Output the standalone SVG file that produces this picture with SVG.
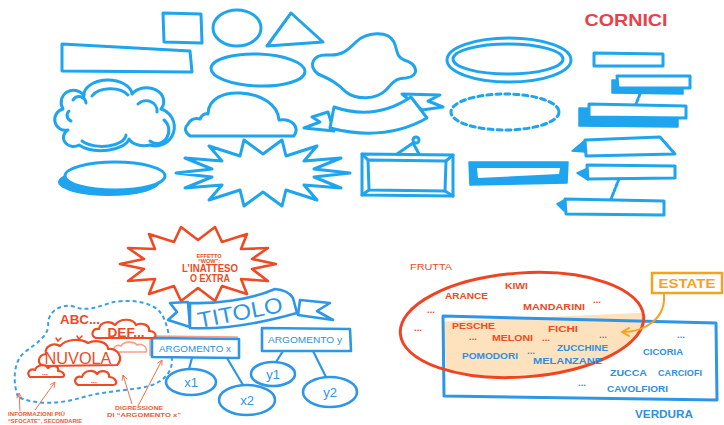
<svg xmlns="http://www.w3.org/2000/svg" width="724" height="425" viewBox="0 0 724 425">
<defs>
<style>
.b{fill:none;stroke:#1fa4ee;stroke-width:3;stroke-linejoin:round;stroke-linecap:round}
.bw{fill:#fff;stroke:#1fa4ee;stroke-width:3;stroke-linejoin:round;stroke-linecap:round}
.bf{fill:#1fa4ee;stroke:#1fa4ee;stroke-width:1.5;stroke-linejoin:round}
.b2{fill:#fff;stroke:#2e96e6;stroke-width:2.6;stroke-linejoin:round;stroke-linecap:round}
.b2n{fill:none;stroke:#2e96e6;stroke-width:2.2;stroke-linecap:round}
.r{fill:none;stroke:#ee4a24;stroke-width:2.6;stroke-linejoin:round;stroke-linecap:round}
.rw{fill:#fff;stroke:#ee4a24;stroke-width:2.2;stroke-linejoin:round;stroke-linecap:round}
.thin{fill:none;stroke:#f07050;stroke-width:1}
text{font-family:"Liberation Sans",Arial,sans-serif}
.tr{fill:#ee4a24;font-weight:bold;font-size:9.5px}
.tb{fill:#2e8fe2;font-weight:bold;font-size:9.5px}
.ts{fill:#ee5a34;font-weight:bold;font-size:5.5px}
</style>
<marker id="ah" viewBox="0 0 8 8" refX="7" refY="4" markerWidth="7" markerHeight="7" orient="auto" markerUnits="userSpaceOnUse">
<path d="M1,1 L7,4 L1,7" fill="none" stroke="#f07050" stroke-width="1"/>
</marker>
<marker id="ao" viewBox="0 0 10 10" refX="8" refY="5" markerWidth="10" markerHeight="10" orient="auto" markerUnits="userSpaceOnUse">
<path d="M1,1 L8,5 L1,9" fill="none" stroke="#f5a21f" stroke-width="2" stroke-linecap="round" stroke-linejoin="round"/>
</marker>
<clipPath id="rc"><polygon points="443,316 716,323 717,400 444,396"/></clipPath>
</defs>
<rect width="724" height="425" fill="#fff"/>

<!-- TOP: frames catalogue -->
<g id="square"><polygon class="b" points="163,13 201,14 202,43 164,42"/></g>
<g id="circle"><ellipse class="b" cx="237" cy="28" rx="24" ry="18"/></g>
<g id="triangle"><polygon class="b" points="291,13 323,42 267,46"/></g>
<g id="long-rect"><polygon class="b" points="62,44 190,51 192,72 62,71"/></g>
<g id="ellipse"><ellipse class="b" cx="258" cy="70" rx="47" ry="16" transform="rotate(2 258 70)"/></g>
<g id="blob"><path class="b" d="M318,74 C308,66 312,54 328,55 C342,56 348,50 356,42 C366,32 388,30 394,42 C398,52 396,56 404,60 C418,64 420,76 406,78 C394,78 392,84 386,90 C376,100 356,100 346,92 C338,84 332,80 318,74 Z"/></g>
<g id="double-ellipse">
<ellipse class="b" cx="509" cy="60" rx="62" ry="22"/>
<ellipse class="b" cx="508" cy="59" rx="55" ry="15"/>
</g>
<g id="cornici"><text x="626" y="26" fill="#e8414d" font-size="17" font-weight="bold" text-anchor="middle" textLength="83" lengthAdjust="spacingAndGlyphs">CORNICI</text></g>

<g id="double-cloud">
<path class="b" d="M68,130 A9,9 0 0 1 63,109 A10,10 0 0 1 84,96 A24,15 0 0 1 132,94 A15,12 0 0 1 161,109 A13,13 0 0 1 150,145 A16,10 0 0 1 129,139 A28,14 0 0 1 79,145 A9,8 0 0 1 68,130 Z"/>
<path class="b" d="M73,100 A7,7 0 0 1 86,103 M92,96 A20,12 0 0 1 128,95 M138,104 A11,10 0 0 1 157,112 M164,120 A10,11 0 0 1 150,141 M126,135 A24,12 0 0 1 82,141 M71,121 A6,6 0 0 1 69,111" stroke-width="2.2"/>
</g>
<g id="flat-cloud"><path class="b" d="M190,136 Q182,130 188,124 Q192,117 200,119 Q203,113 208,114 C208,98 225,92 240,93 C262,94 278,105 279,120 C292,118 300,127 294,136 Z"/></g>
<g id="ribbon">
<polygon class="bw" points="328,112 312,117 320,122 304,128 334,131"/>
<polygon class="bw" points="402,94 440,95 428,101 443,107 422,110"/>
<path class="bw" d="M334,107 Q375,121 411,97 L427,118 Q385,142 330,128 Z"/>
</g>
<g id="dashed-ellipse"><ellipse class="b" cx="505" cy="112" rx="54" ry="18" stroke-dasharray="5 4"/></g>
<g id="shadow-ellipse">
<ellipse cx="109" cy="182" rx="51" ry="14" fill="#1fa4ee"/>
<ellipse class="bw" cx="115" cy="176" rx="50" ry="14"/>
</g>
<g id="starburst"><polygon class="b" points="350,173 314,177 341,188 304,185 317,200 286,190 282,206 263,192 244,206 240,190 209,200 222,185 185,188 212,177 176,173 212,169 185,158 222,161 209,146 240,156 244,140 263,154 282,140 286,156 317,146 304,161 341,158 314,169"/></g>
<g id="picture-frame">
<polyline class="b" points="397,154 413,143 419,154" stroke-width="2.4"/>
<circle class="b" cx="416" cy="140" r="3" stroke-width="2"/>
<polygon class="b" points="362,154 453,155 453,196 362,195"/>
<polygon class="b" points="368,160 446,161 445,191 369,190" stroke-width="2.2"/>
<path class="b" d="M362,154 L368,160 M453,155 L446,161 M453,196 L445,191 M362,195 L369,190" stroke-width="1.8"/>
</g>
<g id="thick-rect">
<polygon class="bf" points="469,162 568,162 567,183 470,185"/>
<polygon fill="#fff" points="477,168 560,168 559,174 478,178"/>
</g>
<g id="frame-1"><polygon class="bw" points="594,53 663,54 663,66 594,66"/></g>
<g id="frame-2">
<polygon class="bf" points="612,80 683,81 683,94 612,93"/>
<polygon class="bw" points="617,76 690,76 690,88 618,88"/>
</g>
<g id="frame-3">
<polygon class="bf" points="579,108 678,110 678,127 579,126"/>
<polygon class="bw" points="589,104 686,106 686,118 589,117"/>
</g>
<g id="frame-4">
<polygon class="bf" points="572,151 585,140 585,152"/>
<polygon class="bw" points="585,140 660,137 675,154 586,156"/>
</g>
<g id="frame-5">
<polygon class="bf" points="577,173 588,168 588,180"/>
<polygon class="bw" points="587,165 675,166 675,178 588,179"/>
</g>
<g id="frame-6">
<polygon class="bf" points="557,204 564,200 564,211"/>
<polygon class="bw" points="565,199 664,201 664,215 566,214"/>
</g>
<g id="frame-connectors">
<path class="b" d="M640,94 L636,104 M619,179 L611,199" stroke-width="2.2" stroke-dasharray="3 2"/>
</g>

<!-- BOTTOM LEFT: map -->
<g id="dashed-cloud"><path d="M18,397 C12,380 14,360 25,352 C38,342 50,335 48,322 C50,310 62,303 75,307 C85,311 95,308 110,303 C125,299 150,300 160,312 C168,322 170,340 172,360 C172,375 160,385 140,388 C120,391 100,392 80,398 C60,404 35,405 18,397 Z" fill="none" stroke="#3a9ee6" stroke-width="2" stroke-dasharray="4 3"/></g>
<g id="wow-burst">
<polygon class="r" points="276,264 252,269 268,281 241,279 247,294 222,286 215,301 198,288 181,301 174,286 149,294 155,279 128,281 144,269 120,264 144,259 128,248 155,249 149,234 174,242 181,227 198,240 215,227 222,242 247,234 241,249 268,248 252,259" style="fill:#fff"/>
<text x="209" y="258" fill="#ee4a24" font-size="5.5" font-weight="bold" text-anchor="middle">EFFETTO</text>
<text x="209" y="263" fill="#ee4a24" font-size="5.5" font-weight="bold" text-anchor="middle">“WOW”:</text>
<text x="210" y="272" fill="#ee4a24" font-size="10" font-weight="bold" text-anchor="middle" textLength="56" lengthAdjust="spacingAndGlyphs">L’INATTESO</text>
<text x="210" y="282" fill="#ee4a24" font-size="10" font-weight="bold" text-anchor="middle" textLength="40" lengthAdjust="spacingAndGlyphs">O EXTRA</text>
</g>
<g id="titolo">
<polygon class="b2" points="188,302 170,303 177,312 168,320 190,327"/>
<polygon class="b2" points="300,300 330,303 317,311 333,320 298,315"/>
<path class="b2" d="M190,303 C215,304 250,300 275,289 Q288,290 293,298 L297,313 C265,322 225,330 190,328 Z"/>
<text x="240" y="320" fill="#2e96e6" font-size="22" text-anchor="middle" textLength="86" lengthAdjust="spacingAndGlyphs" transform="rotate(-11 240 312)">TITOLO</text>
</g>
<g id="connectors-map">
<path class="b2n" d="M192,358 L189,369 M227,358 L243,385 M283,351 L276,362 M313,351 L326,377"/>
</g>
<g id="arg-x">
<polygon points="150,336 237,337 237,356 150,355" fill="none" stroke="#f4a090" stroke-width="1.5"/>
<polygon class="b2" points="152,338 239,339 239,358 152,357"/>
<text class="tb" x="195" y="352" text-anchor="middle" textLength="72" lengthAdjust="spacingAndGlyphs" style="font-weight:normal">ARGOMENTO x</text>
</g>
<g id="arg-y">
<polygon class="b2" points="262,328 350,329 351,351 262,351"/>
<text class="tb" x="305" y="343" text-anchor="middle" textLength="74" lengthAdjust="spacingAndGlyphs" style="font-weight:normal">ARGOMENTO y</text>
</g>
<g id="x1"><ellipse class="b2" cx="191" cy="382" rx="25" ry="13"/><text x="191" y="387" fill="#2e96e6" font-size="13" text-anchor="middle">x1</text></g>
<g id="x2"><ellipse class="b2" cx="247" cy="400" rx="28" ry="15"/><text x="247" y="405" fill="#2e96e6" font-size="13" text-anchor="middle">x2</text></g>
<g id="y1"><ellipse class="b2" cx="273" cy="374" rx="22" ry="12"/><text x="273" y="379" fill="#2e96e6" font-size="13" text-anchor="middle">y1</text></g>
<g id="y2"><ellipse class="b2" cx="330" cy="392" rx="27" ry="15"/><text x="330" y="397" fill="#2e96e6" font-size="13" text-anchor="middle">y2</text></g>

<g id="clouds-red">
<text x="80" y="324" fill="#ee4a24" font-size="12" font-weight="bold" text-anchor="middle" textLength="40" lengthAdjust="spacingAndGlyphs">ABC...</text>
<path d="M115,352 C112,348 116,344 121,346 C124,341 134,341 137,345 C142,343 148,347 146,352 Z" fill="none" stroke="#f6a08c" stroke-width="1.6"/>
<path class="rw" d="M96,338 C90,336 92,328 99,329 C100,322 110,320 115,325 C120,318 133,318 136,325 C142,322 150,325 149,331 C156,331 158,338 152,338 Z"/>
<text x="126" y="337" fill="#ee4a24" font-size="12" font-weight="bold" text-anchor="middle" textLength="37" lengthAdjust="spacingAndGlyphs">DEF...</text>
<path class="rw" d="M44,366 C36,364 38,355 46,354 C44,346 54,342 60,346 C66,339 80,338 88,343 C96,339 108,342 108,349 C118,348 124,358 117,365 Z"/>
<path d="M56,338 L58,341 L61,338 M77,336 L79,339 L82,336" fill="none" stroke="#ee4a24" stroke-width="1.5" stroke-linecap="round"/>
<text x="78" y="364" fill="#ee4a24" font-size="17" text-anchor="middle" textLength="67" lengthAdjust="spacingAndGlyphs">NUVOLA</text>
<path class="rw" d="M30,377 C26,373 30,368 35,370 C37,364 46,364 48,368 C52,364 60,366 58,371 C64,371 66,377 62,377 Z" stroke-width="1.8"/>
<text x="45" y="375" fill="#ee4a24" font-size="7" font-weight="bold" text-anchor="middle">...</text>
<path class="rw" d="M78,385 C72,382 76,375 82,377 C84,370 94,369 97,374 C101,369 110,371 109,377 C116,377 119,385 113,385 Z" stroke-width="1.8"/>
<text x="94" y="383" fill="#ee4a24" font-size="7" font-weight="bold" text-anchor="middle">...</text>
</g>
<g id="pointer-arrows">
<path class="thin" d="M20,411 L19,393" marker-end="url(#ah)"/>
<path class="thin" d="M35,410 L55,382" marker-end="url(#ah)"/>
<path class="thin" d="M132,404 L123,375" marker-end="url(#ah)"/>
<path class="thin" d="M138,406 L162,360" marker-end="url(#ah)"/>
</g>
<g id="labels-left">
<text class="ts" x="8" y="416" textLength="57" lengthAdjust="spacingAndGlyphs">INFORMAZIONI PIÙ</text>
<text class="ts" x="8" y="423" textLength="74" lengthAdjust="spacingAndGlyphs">“SFOCATE”, SECONDARIE</text>
<text class="ts" x="139" y="410" text-anchor="middle" textLength="48" lengthAdjust="spacingAndGlyphs">DIGRESSIONE</text>
<text class="ts" x="144" y="417" text-anchor="middle" textLength="74" lengthAdjust="spacingAndGlyphs">DI “ARGOMENTO x”</text>
</g>

<!-- BOTTOM RIGHT: Venn -->
<g id="venn">
<ellipse cx="522" cy="325" rx="122" ry="52" transform="rotate(-4 522 325)" fill="#fde2bd" clip-path="url(#rc)"/>
<polygon points="443,316 716,323 717,400 444,396" fill="none" stroke="#2e96e6" stroke-width="3" stroke-linejoin="round"/>
<ellipse cx="522" cy="325" rx="122" ry="52" transform="rotate(-4 522 325)" fill="none" stroke="#ee4424" stroke-width="3"/>
</g>
<g id="estate">
<rect x="652" y="273" width="70" height="20" fill="#fff" stroke="#f5a21f" stroke-width="2.5"/>
<text x="687" y="288" fill="#f5a21f" font-size="12" font-weight="bold" text-anchor="middle" textLength="57" lengthAdjust="spacingAndGlyphs">ESTATE</text>
</g>
<g id="estate-arrow"><path d="M664,294 C666,318 646,332 622,332" fill="none" stroke="#f5a21f" stroke-width="2" marker-end="url(#ao)"/></g>
<g id="venn-labels">
<text class="tr" x="410" y="270" textLength="42" lengthAdjust="spacingAndGlyphs" style="font-weight:normal">FRUTTA</text>
<text class="tr" x="505" y="289" textLength="23" lengthAdjust="spacingAndGlyphs">KIWI</text>
<text class="tr" x="445" y="299" textLength="43" lengthAdjust="spacingAndGlyphs">ARANCE</text>
<text class="tr" x="523" y="310" textLength="62" lengthAdjust="spacingAndGlyphs">MANDARINI</text>
<text class="tr" x="593" y="303">...</text>
<text class="tr" x="427" y="313">...</text>
<text class="tr" x="414" y="331">...</text>
<text class="tr" x="452" y="329" textLength="43" lengthAdjust="spacingAndGlyphs">PESCHE</text>
<text class="tr" x="548" y="332" textLength="30" lengthAdjust="spacingAndGlyphs">FICHI</text>
<text class="tr" x="469" y="340">...</text>
<text class="tr" x="492" y="341" textLength="41" lengthAdjust="spacingAndGlyphs">MELONI</text>
<text class="tr" x="542" y="341">...</text>
<text class="tb" x="599" y="338">...</text>
<text class="tb" x="557" y="351" textLength="51" lengthAdjust="spacingAndGlyphs">ZUCCHINE</text>
<text class="tb" x="462" y="359" textLength="56" lengthAdjust="spacingAndGlyphs">POMODORI</text>
<text class="tb" x="527" y="354">...</text>
<text class="tb" x="533" y="364" textLength="69" lengthAdjust="spacingAndGlyphs">MELANZANE</text>
<text class="tb" x="677" y="338">...</text>
<text class="tb" x="643" y="355" textLength="40" lengthAdjust="spacingAndGlyphs">CICORIA</text>
<text class="tb" x="610" y="376" textLength="37" lengthAdjust="spacingAndGlyphs">ZUCCA</text>
<text class="tb" x="658" y="376" textLength="44" lengthAdjust="spacingAndGlyphs">CARCIOFI</text>
<text class="tb" x="578" y="386">...</text>
<text class="tb" x="607" y="392" textLength="61" lengthAdjust="spacingAndGlyphs">CAVOLFIORI</text>
<text class="tb" x="635" y="418" textLength="58" lengthAdjust="spacingAndGlyphs" style="font-size:11px">VERDURA</text>
</g>
</svg>
